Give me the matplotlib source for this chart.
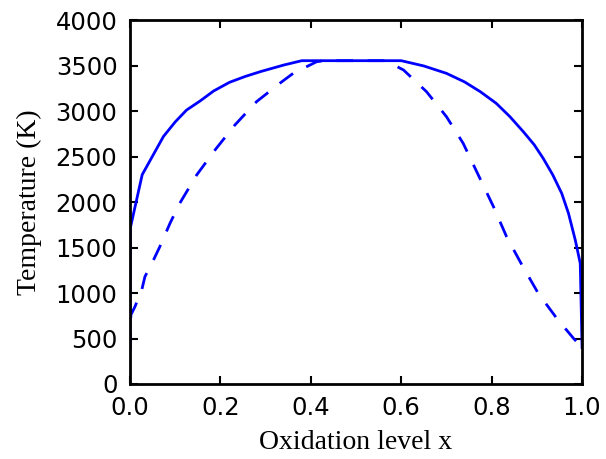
import matplotlib
matplotlib.use('Agg')
import matplotlib.pyplot as plt

# Temperature vs oxidation level, two boundary curves
x_solid = [0.0, 0.001, 0.027, 0.074, 0.1, 0.125, 0.155, 0.185, 0.22, 0.255,
           0.29, 0.34, 0.38, 0.60, 0.65, 0.70, 0.74, 0.775, 0.81, 0.84,
           0.87, 0.894, 0.914, 0.935, 0.955, 0.97, 0.985, 0.996, 1.0]
t_solid = [380, 1720, 2300, 2720, 2880, 3010, 3110, 3220, 3315, 3380,
           3435, 3505, 3553, 3553, 3495, 3414, 3320, 3212, 3085, 2940,
           2773, 2630, 2480, 2300, 2095, 1875, 1582, 1326, 400]

x_dash = [0.0, 0.002, 0.011, 0.026, 0.033, 0.052, 0.066, 0.0885, 0.11, 0.1475,
          0.188, 0.232, 0.28, 0.336, 0.361, 0.413, 0.43, 0.565, 0.605, 0.656,
          0.70, 0.737, 0.774, 0.804, 0.833, 0.867, 0.903, 0.944, 0.981, 1.0]
t_dash = [380, 760, 850, 1033, 1179, 1363, 1509, 1766, 1985, 2297,
          2571, 2846, 3103, 3322, 3414, 3542, 3553, 3553, 3451, 3212,
          2938, 2645, 2260, 1949, 1619, 1308, 997, 722, 502, 400]

x_ticks = [0.0, 0.2, 0.4, 0.6, 0.8, 1.0]
y_ticks = [0, 500, 1000, 1500, 2000, 2500, 3000, 3500, 4000]

fig = plt.figure(figsize=(6.06, 4.59), dpi=100)
ax = fig.add_axes([0.2145, 0.1634, 0.746, 0.793])

ax.plot(x_solid, t_solid, color='#0000ff', lw=2)
ax.plot(x_dash, t_dash, color='#0000ff', lw=2, linestyle=(0, (6, 5.3)))

ax.set_xlim(0, 1)
ax.set_ylim(0, 4000)
ax.set_xticks(x_ticks)
ax.set_yticks(y_ticks)
ax.set_xticklabels([f'{v:.1f}' for v in x_ticks])
ax.set_yticklabels([str(v) for v in y_ticks])

for s in ax.spines.values():
    s.set_linewidth(2)
ax.tick_params(direction='in', top=True, right=True, length=6, width=1.5,
               pad=9, labelsize=17.5)
for lab in ax.get_xticklabels() + ax.get_yticklabels():
    lab.set_family('DejaVu Sans')

ax.set_xlabel('Oxidation level x', family='Liberation Serif', fontsize=20, labelpad=7)
ax.set_ylabel('Temperature (K)', family='Liberation Serif', fontsize=20, labelpad=10)

fig.savefig('out.png', dpi=100)
